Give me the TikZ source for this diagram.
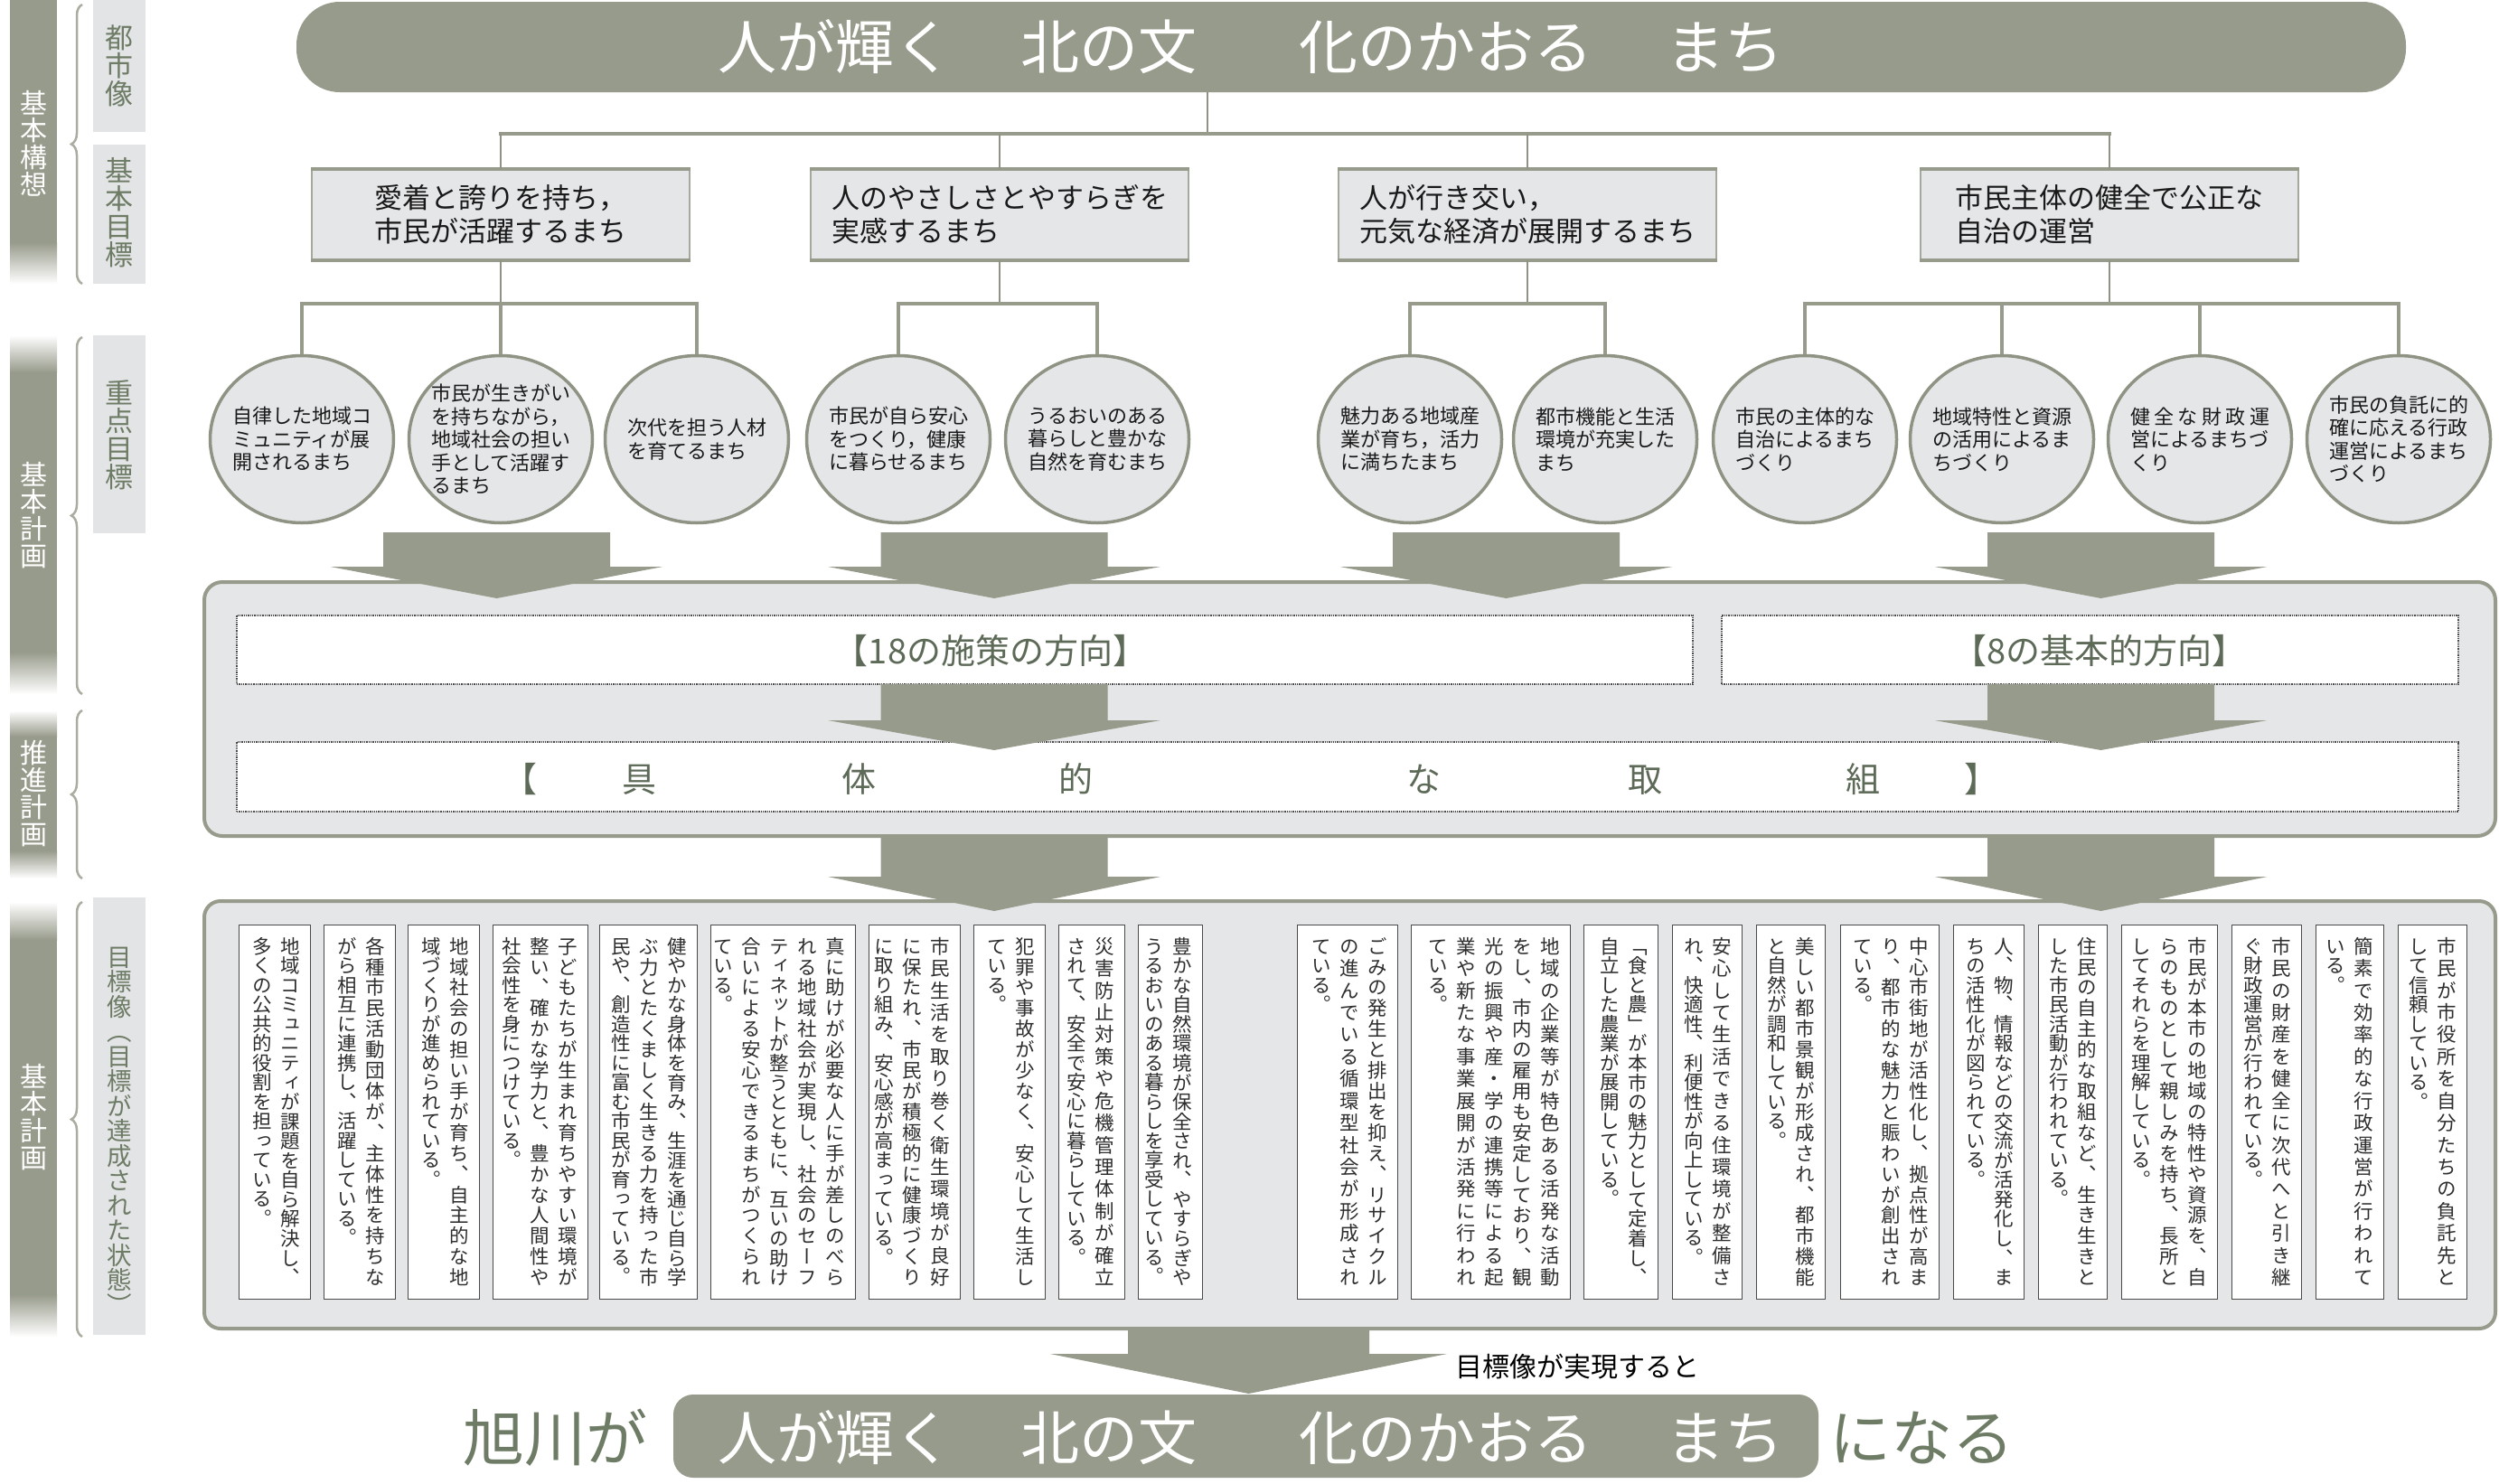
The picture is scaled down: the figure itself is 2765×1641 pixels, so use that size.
\documentclass[tikz,border=0pt]{standalone}
\usepackage{fontspec}
\TeXXeTstate=1
\setmainfont{Noto Sans CJK JP}
\newfontfamily\jp{Noto Sans CJK JP}
\newfontfamily\vjp{Noto Sans CJK JP}[RawFeature=+vert]
\usetikzlibrary{shapes.geometric,decorations.pathreplacing}
\definecolor{barc}{HTML}{979B8B}
\definecolor{panelc}{HTML}{E5E6E8}
\definecolor{edgec}{HTML}{8E9384}
\definecolor{lblc}{HTML}{6E7C66}
\definecolor{txtc}{HTML}{5E6A58}
\definecolor{darkc}{HTML}{4A4A4A}
\definecolor{colt}{HTML}{2E2E2E}
\definecolor{bracec}{HTML}{A9AC9F}
\definecolor{lblbg}{HTML}{E3E4E6}
\ExplSyntaxOn
\dim_new:N \l_vt_em_dim
\dim_new:N \l_vt_len_dim
\dim_new:N \l_vt_gap_dim
\int_new:N \l_vt_n_int
\int_new:N \l_vt_m_int
\box_new:N \l_vt_cell_box
\cs_new_protected:Npn \vt_cell:n #1
  {
    \hbox_set_to_wd:Nnn \l_vt_cell_box { \l_vt_em_dim } { \hss #1 \hss }
    \box_set_ht:Nn \l_vt_cell_box { 0.88\l_vt_em_dim }
    \box_set_dp:Nn \l_vt_cell_box { 0.12\l_vt_em_dim }
    \box_use_drop:N \l_vt_cell_box
  }
\cs_new_protected:Npn \vt_column:Nn #1 #2
  {
    \vtop
      {
        \offinterlineskip
        \tl_map_inline:nn {#2} { \vt_cell:n {##1} \kern #1 }
      }
  }
\NewDocumentCommand \vf { m }
  {
    \int_set:Nn \l_vt_n_int { \tl_count:n {#1} }
    \int_set:Nn \l_vt_m_int { \l_vt_n_int - 1 }
    \dim_set:Nn \l_vt_gap_dim { ( \l_vt_len_dim - \l_vt_em_dim * \l_vt_n_int ) / \l_vt_m_int }
    \vt_column:Nn \l_vt_gap_dim {#1}
  }
\NewDocumentCommand \vn { m }
  {
    \dim_zero:N \l_vt_gap_dim
    \vt_column:Nn \l_vt_gap_dim {#1}
  }
\NewDocumentCommand \vsetup { m m }
  { \dim_set:Nn \l_vt_em_dim {#1} \dim_set:Nn \l_vt_len_dim {#2} }
\ExplSyntaxOff
\newcommand\vtsep{\hskip 9.5pt}
\newcommand\colbox[4]{%
  \node[colb,minimum width={#3-#2}] (#1) at (#2,1023) {};
  \node[vcol] (#1t) at ({#3-11},1036) {\beginR#4\endR};}
\newcommand\barrow[7]{% name cx top headstart tip halfshaft halfhead
  \fill[barc] ({#2-#6},#3) -- ({#2+#6},#3) -- ({#2+#6},#4) -- ({#2+#7},#4) -- (#2,#5) -- ({#2-#7},#4) -- ({#2-#6},#4) -- cycle;
  \coordinate (#1) at (#2,#5);}
\begin{document}
\begin{tikzpicture}[x=1pt,y=-1pt,
  vcol/.style={anchor=north east,inner sep=0pt,text=colt,font={\vjp\fontsize{21.5}{21.5}\selectfont\vsetup{21.5pt}{388pt}}},
  vlab/.style={inner sep=0pt,font={\vjp\fontsize{#1}{#1}\selectfont\vsetup{#1pt}{100pt}}},
  colb/.style={draw=darkc,line width=1.3pt,fill=white,anchor=north west,minimum height=414,inner sep=0pt},
  lblbox/.style={fill=lblbg,anchor=north west,minimum width=58,inner sep=0pt},
  goalbox/.style={fill=panelc,draw=edgec!80,line width=1.2pt,minimum width=418,minimum height=99,inner sep=0pt},
  gtext/.style={align=left,inner sep=0pt,text=black!90,font={\jp\fontsize{31}{37}\selectfont}},
  ell/.style={ellipse,draw=edgec,line width=3.5pt,fill=panelc,minimum width=203,minimum height=185,inner sep=0pt},
  etext/.style={align=left,inner sep=0pt,text=black!90,font={\jp\fontsize{22}{25.5}\selectfont}},
  thinline/.style={edgec,line width=2pt},
  busline/.style={barc,line width=4pt,line cap=rect},
  medline/.style={barc,line width=3.5pt},
  dotbox/.style={draw=darkc,densely dotted,line width=1.3pt,fill=white,inner sep=0pt},
  panelbox/.style={draw=barc,line width=4pt,fill=panelc,rounded corners=20pt,inner sep=0pt},
  bracest/.style={bracec,line width=2.5pt,decorate,decoration={brace,amplitude=12pt}}
]
\useasboundingbox (0,0) rectangle (2765,1641);
\fill[white] (0,0) rectangle (2765,1641);

% ---------- left side bars ----------
\fill[barc] (11,0) rectangle (63,314);
\shade[top color=barc,bottom color=white] (11,268) rectangle (63,314);
\fill[barc] (11,371) rectangle (63,768);
\shade[top color=white,bottom color=barc] (11,371) rectangle (63,412);
\shade[top color=barc,bottom color=white] (11,721) rectangle (63,768);
\fill[barc] (11,786) rectangle (63,972);
\shade[top color=white,bottom color=barc] (11,786) rectangle (63,815);
\shade[top color=barc,bottom color=white] (11,941) rectangle (63,972);
\fill[barc] (11,998) rectangle (63,1479);
\shade[top color=white,bottom color=barc] (11,998) rectangle (63,1040);
\shade[top color=barc,bottom color=white] (11,1432) rectangle (63,1479);
\node[vlab=30,white] (s1) at (37,159) {\vn{基本構想}};
\node[vlab=30,white] (s2) at (37,570) {\vn{基本計画}};
\node[vlab=30,white] (s3) at (37,878) {\vn{推進計画}};
\node[vlab=30,white] (s4) at (37,1236) {\vn{基本計画}};

% braces
\draw[bracest] (91,314) -- (91,5);
\draw[bracest] (91,768) -- (91,373);
\draw[bracest] (91,972) -- (91,786);
\draw[bracest] (91,1479) -- (91,998);

% label boxes
\node[lblbox,minimum height=146] (l1) at (103,0) {};
\node[lblbox,minimum height=154] (l2) at (103,160) {};
\node[lblbox,minimum height=219] (l3) at (103,371) {};
\node[lblbox,minimum height=484] (l4) at (103,993) {};
\node[vlab=31,lblc] (l1t) at (132,73) {\vn{都市像}};
\node[vlab=31,lblc] (l2t) at (132,235) {\vn{基本目標}};
\node[vlab=31,lblc] (l3t) at (132,481) {\vn{重点目標}};
\node[vlab=27.5,lblc,anchor=north] (l4t) at (132,1045) {\vn{目標像（目標が達成された状態）}};

% ---------- top banner ----------
\node[fill=barc,rounded corners=48pt,minimum width=2334,minimum height=100,inner sep=0pt] (top) at (1495,52) {};
\node[white,anchor=west,inner sep=0pt,font={\jp\fontsize{65}{70}\selectfont}] (toptext) at (794,52)
  {人が輝く\hspace{75pt}北の文\hspace{113pt}化のかおる\hspace{81pt}まち};

% ---------- basic goals ----------
\node[goalbox] (g1) at (554,237.5) {};
\node[goalbox] (g2) at (1106,237.5) {};
\node[goalbox] (g3) at (1690,237.5) {};
\node[goalbox] (g4) at (2334,237.5) {};
\foreach \g in {g1,g2,g3,g4}
  \draw[barc,line width=4pt] (\g.north west) -- (\g.north east) (\g.south west) -- (\g.south east);
\node[gtext] (g1t) at (g1) {愛着と誇りを持ち，\\市民が活躍するまち};
\node[gtext] (g2t) at (g2) {人のやさしさとやすらぎを\\実感するまち};
\node[gtext] (g3t) at (g3) {人が行き交い，\\元気な経済が展開するまち};
\node[gtext] (g4t) at (g4) {市民主体の健全で公正な\\自治の運営};

\coordinate (trunk) at (1336,148);
\draw[thinline] (trunk |- top.south) -- (trunk);
\draw[busline] (g1.north |- trunk) -- (g4.north |- trunk);
\foreach \g in {g1,g2,g3,g4}
  \draw[thinline] (\g.north |- trunk) -- (\g.north);

% ---------- priority goals (ellipses) ----------
\node[ell] (e1) at (334,486) {};
\node[ell] (e2) at (554,486) {};
\node[ell] (e3) at (771,486) {};
\node[ell] (e4) at (994,486) {};
\node[ell] (e5) at (1214,486) {};
\node[ell] (e6) at (1560,486) {};
\node[ell] (e7) at (1776,486) {};
\node[ell] (e8) at (1997,486) {};
\node[ell] (e9) at (2215,486) {};
\node[ell] (e10) at (2434,486) {};
\node[ell] (e11) at (2654,486) {};
\node[etext] (e1t) at (e1) {自律した地域コ\\ミュニティが展\\開されるまち};
\node[etext] (e2t) at (e2) {市民が生きがい\\を持ちながら，\\地域社会の担い\\手として活躍す\\るまち};
\node[etext] (e3t) at (e3) {次代を担う人材\\を育てるまち};
\node[etext] (e4t) at (e4) {市民が自ら安心\\をつくり，健康\\に暮らせるまち};
\node[etext] (e5t) at (e5) {うるおいのある\\暮らしと豊かな\\自然を育むまち};
\node[etext] (e6t) at (e6) {魅力ある地域産\\業が育ち，活力\\に満ちたまち};
\node[etext] (e7t) at (e7) {都市機能と生活\\環境が充実した\\まち};
\node[etext] (e8t) at (e8) {市民の主体的な\\自治によるまち\\づくり};
\node[etext] (e9t) at (e9) {地域特性と資源\\の活用によるま\\ちづくり};
\node[etext] (e10t) at (e10) {\makebox[154pt][s]{健\hfil 全\hfil な\hfil 財\hfil 政\hfil 運}\\営によるまちづ\\くり};
\node[etext] (e11t) at (e11) {市民の負託に的\\確に応える行政\\運営によるまち\\づくり};

\coordinate (bus) at (0,336);
\draw[thinline] (g1.south) -- (g1.south |- bus);
\draw[thinline] (g2.south) -- (g2.south |- bus);
\draw[thinline] (g3.south) -- (g3.south |- bus);
\draw[thinline] (g4.south) -- (g4.south |- bus);
\draw[busline] (e1.north |- bus) -- (e3.north |- bus);
\draw[busline] (e4.north |- bus) -- (e5.north |- bus);
\draw[busline] (e6.north |- bus) -- (e7.north |- bus);
\draw[busline] (e8.north |- bus) -- (e11.north |- bus);
\foreach \e in {e1,e2,e3,e4,e5,e6,e7,e8,e9,e10,e11}
  \draw[medline] (\e.north |- bus) -- (\e.north);

% ---------- upper panel ----------
\node[panelbox,minimum width=2535,minimum height=281] (p1) at (1493.5,784.5) {};
\node[dotbox,minimum width=1611,minimum height=76] (bA) at (1067.5,719) {};
\node[dotbox,minimum width=815,minimum height=76] (bB) at (2312.5,719) {};
\node[dotbox,minimum width=2458,minimum height=77] (bC) at (1491,859.5) {};
\node[txtc,inner sep=0pt,font={\jp\fontsize{38}{40}\selectfont}] (bAt) at (1096,720) {【18の施策の方向】};
\node[txtc,inner sep=0pt,font={\jp\fontsize{38}{40}\selectfont}] (bBt) at (2323,720) {【8の基本的方向】};

\barrow{a1}{549.5}{589}{627}{662}{125.5}{184}
\barrow{a2}{1100}{589}{627}{662}{125.5}{184}
\barrow{a3}{1666.5}{589}{627}{662}{125.5}{184}
\barrow{a4}{2324.5}{589}{627}{662}{125.5}{184}
\barrow{a5}{1100}{757}{797}{830}{125.5}{184}
\barrow{a6}{2324.5}{757}{797}{830}{125.5}{184}

\node[txtc,anchor=west,inner sep=0pt,font={\jp\fontsize{38}{40}\selectfont}] (bCt) at (556,862)
  {【\hspace{94pt}具\hspace{205pt}体\hspace{202pt}的\hspace{347pt}な\hspace{207pt}取\hspace{203pt}組\hspace{93pt}】};

% ---------- lower panel ----------
\node[panelbox,minimum width=2535,minimum height=473,rounded corners=18pt] (p2) at (1493.5,1233.5) {};
\barrow{a7}{1100}{925}{970}{1008}{125.5}{184}
\barrow{a8}{2324.5}{925}{970}{1008}{125.5}{184}

\colbox{c1}{264}{343}{\vf{地域コミュニティが課題を自ら解決し、}\vtsep\vn{多くの公共的役割を担っている。}}
\colbox{c2}{358}{437}{\vf{各種市民活動団体が、主体性を持ちな}\vtsep\vn{がら相互に連携し、活躍している。}}
\colbox{c3}{451}{530}{\vf{地域社会の担い手が育ち、自主的な地}\vtsep\vn{域づくりが進められている。}}
\colbox{c4}{545}{650}{\vf{子どもたちが生まれ育ちやすい環境が}\vtsep\vf{整い、確かな学力と、豊かな人間性や}\vtsep\vn{社会性を身につけている。}}
\colbox{c5}{663}{771}{\vf{健やかな身体を育み、生涯を通じ自ら学}\vtsep\vf{ぶ力とたくましく生きる力を持った市}\vtsep\vn{民や、創造性に富む市民が育っている。}}
\colbox{c6}{786}{946}{\vf{真に助けが必要な人に手が差しのべら}\vtsep\vf{れる地域社会が実現し、社会のセーフ}\vtsep\vf{ティネットが整うとともに、互いの助け}\vtsep\vf{合いによる安心できるまちがつくられ}\vtsep\vn{ている。}}
\colbox{c7}{961}{1062}{\vf{市民生活を取り巻く衛生環境が良好}\vtsep\vf{に保たれ、市民が積極的に健康づくり}\vtsep\vn{に取り組み、安心感が高まっている。}}
\colbox{c8}{1077}{1156}{\vf{犯罪や事故が少なく、安心して生活し}\vtsep\vn{ている。}}
\colbox{c9}{1171}{1244}{\vf{災害防止対策や危機管理体制が確立}\vtsep\vn{されて、安全で安心に暮らしている。}}
\colbox{c10}{1259}{1330}{\vf{豊かな自然環境が保全され、やすらぎや}\vtsep\vn{うるおいのある暮らしを享受している。}}
\colbox{c11}{1435}{1546}{\vf{ごみの発生と排出を抑え、リサイクル}\vtsep\vf{の進んでいる循環型社会が形成され}\vtsep\vn{ている。}}
\colbox{c12}{1561}{1737}{\vf{地域の企業等が特色ある活発な活動}\vtsep\vf{をし、市内の雇用も安定しており、観}\vtsep\vf{光の振興や産・学の連携等による起}\vtsep\vf{業や新たな事業展開が活発に行われ}\vtsep\vn{ている。}}
\colbox{c13}{1752}{1834}{\vf{「食と農」が本市の魅力として定着し、}\vtsep\vn{自立した農業が展開している。}}
\colbox{c14}{1850}{1927}{\vf{安心して生活できる住環境が整備さ}\vtsep\vn{れ、快適性、利便性が向上している。}}
\colbox{c15}{1943}{2019}{\vf{美しい都市景観が形成され、都市機能}\vtsep\vn{と自然が調和している。}}
\colbox{c16}{2036}{2145}{\vf{中心市街地が活性化し、拠点性が高ま}\vtsep\vf{り、都市的な魅力と賑わいが創出され}\vtsep\vn{ている。}}
\colbox{c17}{2161}{2239}{\vf{人、物、情報などの交流が活発化し、ま}\vtsep\vn{ちの活性化が図られている。}}
\colbox{c18}{2255}{2331}{\vf{住民の自主的な取組など、生き生きと}\vtsep\vn{した市民活動が行われている。}}
\colbox{c19}{2347}{2453}{\vf{市民が本市の地域の特性や資源を、自}\vtsep\vf{らのものとして親しみを持ち、長所と}\vtsep\vn{してそれらを理解している。}}
\colbox{c20}{2469}{2546}{\vf{市民の財産を健全に次代へと引き継}\vtsep\vn{ぐ財政運営が行われている。}}
\colbox{c21}{2562}{2637}{\vf{簡素で効率的な行政運営が行われて}\vtsep\vn{いる。}}
\colbox{c22}{2653}{2729}{\vf{市民が市役所を自分たちの負託先と}\vtsep\vn{して信頼している。}}

% ---------- bottom ----------
\barrow{a9}{1381.5}{1470}{1498}{1542}{133.5}{219.5}
\node[anchor=west,inner sep=0pt,text=black,font={\jp\fontsize{30}{32}\selectfont}] (real) at (1610,1512) {目標像が実現すると};
\node[fill=barc,rounded corners=22pt,minimum width=1267,minimum height=92,inner sep=0pt] (bot) at (1378.5,1589) {};
\node[white,anchor=west,inner sep=0pt,font={\jp\fontsize{65}{70}\selectfont}] (bottext) at (794,1591)
  {人が輝く\hspace{75pt}北の文\hspace{113pt}化のかおる\hspace{81pt}まち};
\node[lblc,anchor=west,inner sep=0pt,font={\jp\fontsize{68}{70}\selectfont}] (asa) at (512,1591) {旭川が};
\node[lblc,anchor=west,inner sep=0pt,font={\jp\fontsize{68}{70}\selectfont}] (naru) at (2024,1591) {になる};
\end{tikzpicture}
\end{document}
